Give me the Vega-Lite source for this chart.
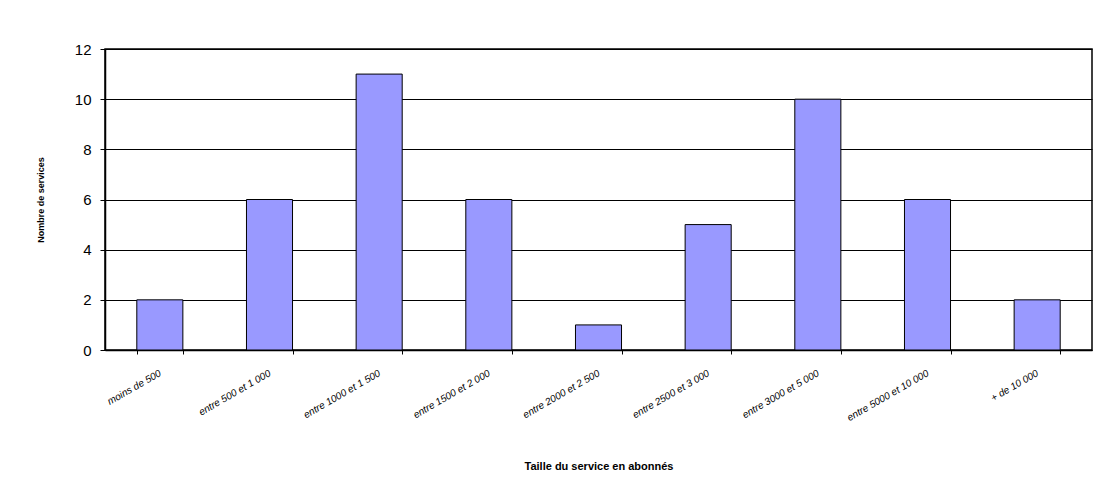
{
  "$schema": "https://vega.github.io/schema/vega-lite/v6.json",
  "autosize": {"type": "none"},
  "width": 987,
  "height": 301,
  "padding": {"left": 105, "top": 49, "right": 12, "bottom": 148},
  "background": "white",
  "config": {
    "font": "Liberation Sans",
    "view": {"stroke": "black", "strokeWidth": 1.5}
  },
  "data": {
    "values": [
      {"taille": "moins de 500", "n": 2},
      {"taille": "entre 500 et 1 000", "n": 6},
      {"taille": "entre 1000 et 1 500", "n": 11},
      {"taille": "entre 1500 et 2 000", "n": 6},
      {"taille": "entre 2000 et 2 500", "n": 1},
      {"taille": "entre 2500 et 3 000", "n": 5},
      {"taille": "entre 3000 et 5 000", "n": 10},
      {"taille": "entre 5000 et 10 000", "n": 6},
      {"taille": "+ de 10 000", "n": 2}
    ]
  },
  "mark": {"type": "bar", "fill": "#9999FF", "stroke": "black", "strokeWidth": 1},
  "encoding": {
    "x": {
      "field": "taille",
      "type": "nominal",
      "sort": null,
      "scale": {"paddingInner": 0.58, "paddingOuter": 0.29},
      "axis": {
        "title": "Taille du service en abonnés",
        "titleFontSize": 11,
        "titleFontWeight": "bold",
        "titleColor": "black",
        "titlePadding": 38,
        "labelAngle": -30,
        "labelAlign": "right",
        "labelBaseline": "middle",
        "labelFontSize": 10,
        "labelFontStyle": "italic",
        "labelColor": "black",
        "labelPadding": 18,
        "tickBand": "extent",
        "tickColor": "black",
        "tickSize": 4,
        "domainColor": "black",
        "domainWidth": 1.5
      }
    },
    "y": {
      "field": "n",
      "type": "quantitative",
      "scale": {"domain": [0, 12]},
      "axis": {
        "title": "Nombre de services",
        "titleFontSize": 9,
        "titleFontWeight": "bold",
        "titleColor": "black",
        "titlePadding": 29,
        "values": [0, 2, 4, 6, 8, 10, 12],
        "labelFontSize": 15,
        "labelColor": "black",
        "labelPadding": 9,
        "tickColor": "black",
        "tickSize": 5,
        "grid": true,
        "gridColor": "black",
        "gridWidth": 1,
        "gridOpacity": 1,
        "domainColor": "black",
        "domainWidth": 1.5
      }
    }
  }
}
